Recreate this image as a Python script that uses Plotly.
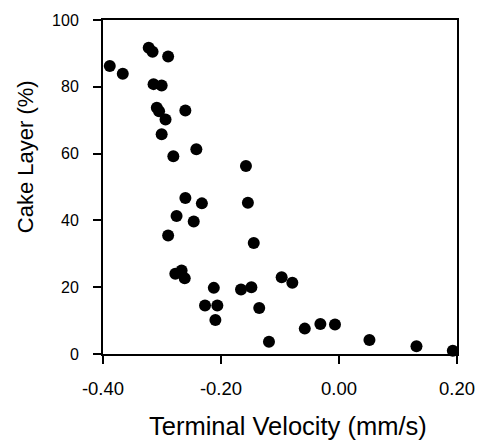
import plotly.graph_objects as go

velocity = [-0.3885, -0.3665, -0.3225, -0.316, -0.2896, -0.3143, -0.3006, -0.3088, -0.3049,
            -0.2604, -0.294, -0.3006, -0.2418, -0.2808, -0.1577,
            -0.2604, -0.2324, -0.1544, -0.2753, -0.2462, -0.2896, -0.1445, -0.2774, -0.2668,
            -0.2615, -0.0972, -0.2122, -0.1661, -0.1485, -0.2271, -0.2062, -0.1352, -0.2095,
            -0.1187,
            -0.0791, -0.058, -0.0316, -0.0068, 0.0516, 0.1313, 0.1929]
cake = [86.2, 83.9, 91.7, 90.5, 89.1, 80.8, 80.4, 73.7, 72.7,
        72.9, 70.2, 65.8, 61.3, 59.2, 56.3,
        46.7, 45.1, 45.3, 41.3, 39.7, 35.5, 33.2, 24.0, 25.0,
        22.7, 23.0, 19.8, 19.3, 20.0, 14.5, 14.5, 13.8, 10.2,
        3.7,
        21.3, 7.6, 9.0, 8.8, 4.2, 2.3, 1.0]

x_ticks = [-0.4, -0.2, 0.0, 0.2]
x_ticklabels = ["-0.40", "-0.20", "0.00", "0.20"]
y_ticks = [0, 20, 40, 60, 80, 100]

fig = go.Figure(go.Scatter(
    x=velocity, y=cake, mode="markers",
    marker=dict(color="black", size=12, line=dict(width=0)),
    cliponaxis=False,
))

font = "Liberation Sans, Arial, sans-serif"
fig.update_layout(
    width=487, height=442,
    margin=dict(l=103, r=20, t=20, b=88),
    plot_bgcolor="white", paper_bgcolor="white",
    showlegend=False,
    font=dict(family=font, color="black"),
    xaxis=dict(range=[-0.4, 0.2], tickvals=x_ticks, ticktext=x_ticklabels,
               showgrid=False, zeroline=False, showline=True, mirror=True,
               linecolor="black", linewidth=2, ticks="outside", ticklen=8,
               tickwidth=1.5, tickcolor="black", tickfont=dict(size=18.5),
               ticklabelstandoff=9),
    yaxis=dict(range=[0, 100], tickvals=y_ticks,
               showgrid=False, zeroline=False, showline=True, mirror=True,
               linecolor="black", linewidth=2, ticks="outside", ticklen=8,
               tickwidth=1.5, tickcolor="black", tickfont=dict(size=16),
               ticklabelstandoff=11),
    annotations=[
        dict(text="Terminal Velocity (mm/s)", xref="paper", yref="paper",
             x=(293.5 - 103) / 364, y=-(426 - 354) / 334, xanchor="center", yanchor="middle",
             showarrow=False, font=dict(size=25.5)),
        dict(text="Cake Layer (%)", xref="paper", yref="paper",
             x=-(103 - 23) / 364, y=(354 - 157) / 334, xanchor="center", yanchor="middle",
             textangle=-90, showarrow=False, font=dict(size=22)),
    ],
)

fig.write_html("out.html")
